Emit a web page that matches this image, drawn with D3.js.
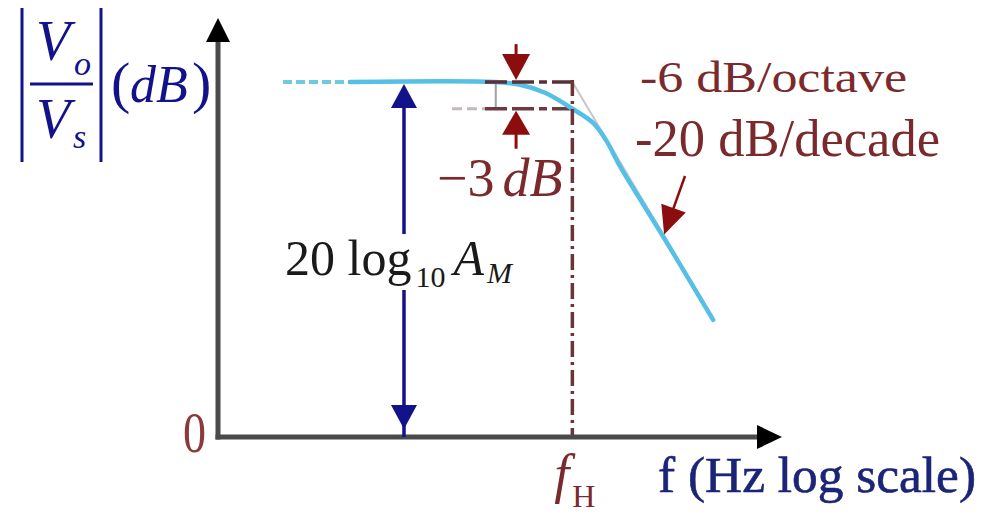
<!DOCTYPE html>
<html>
<head>
<meta charset="utf-8">
<script src="https://cdn.jsdelivr.net/npm/d3@7"></script>
<style>
  html, body { margin: 0; padding: 0; background: #fff; }
  svg { display: block; }
  text { font-family: "Liberation Serif", "Times New Roman", serif; }
</style>
</head>
<body>
<svg id="chart" width="997" height="518"></svg>
<script>
// Low-pass magnitude response (dB) versus frequency (Hz, log scale)
const passbandDb = 40;           // 20 log10 A_M
const cornerHz = 2200;           // f_H
const cornerDb = 37;             // -3 dB point
const leadInHz = [4.1, 17.6];    // dashed lead-in of the flat band
const responseHz = [17.6, 410, 706, 1216, 2200, 3450, 4600, 6200, 15800, 46800];
const responseDb = [40, 40, 39.7, 38.8, 37, 35.4, 33.4, 30.5, 22.6, 13.2];
const asymptoteHz = [2200, 46800];
const asymptoteDb = [40, 13.4];
const upperGuideHz = [330, 2490];   // dashed line at the passband level
const lowerGuideHz = [161, 2490];   // dashed line at the -3 dB level
const stepTickHz = 417;
const dropMarkerHz = 648;           // pair of arrows bracketing the 3 dB drop
const gainMarkerHz = 56.8;          // double arrow for 20 log10 A_M
const slopeMarkerHz = 15800;        // pointer to the roll-off
const slopeMarkerDb = 22.6;
const slopeLabels = ["-6 dB/octave", "-20 dB/decade"];

const svg = d3.select("#chart");
const x = d3.scaleLog().domain([1, 2e5]).range([218, 780]);
const y = d3.scaleLinear().domain([0, 47]).range([437, 20]);

const navy = "#12128a", maroon = "#7a2a2c", red = "#8c0d0d", axisGrey = "#4a4a4a";

function arrowHead(g, tipX, tipY, angle, len, half, fill) {
  // angle: direction the arrow points, in radians (0 = +x)
  const ca = Math.cos(angle), sa = Math.sin(angle);
  const bx = tipX - ca * len, by = tipY - sa * len;
  const pts = [[tipX, tipY], [bx - sa * half, by + ca * half], [bx + sa * half, by - ca * half]];
  g.append("polygon").attr("points", pts.map(p => p.join(",")).join(" ")).attr("fill", fill);
}

// --- guides drawn below the response ---
svg.append("line")
  .attr("x1", x(asymptoteHz[0])).attr("y1", y(asymptoteDb[0]))
  .attr("x2", x(asymptoteHz[1])).attr("y2", y(asymptoteDb[1]))
  .attr("stroke", "#c6c6c6").attr("stroke-width", 2);

svg.append("line")
  .attr("x1", x(stepTickHz)).attr("x2", x(stepTickHz))
  .attr("y1", y(passbandDb)).attr("y2", y(cornerDb))
  .attr("stroke", "#a0a0a0").attr("stroke-width", 2);

svg.append("line")
  .attr("x1", x(lowerGuideHz[0])).attr("x2", x(upperGuideHz[0]))
  .attr("y1", y(cornerDb)).attr("y2", y(cornerDb))
  .attr("stroke", "#c4b8bc").attr("stroke-width", 3).attr("stroke-dasharray", "10,5");

svg.append("line")
  .attr("x1", x(upperGuideHz[0])).attr("x2", x(lowerGuideHz[1]))
  .attr("y1", y(cornerDb)).attr("y2", y(cornerDb))
  .attr("stroke", "#6e3a42").attr("stroke-width", 3.5).attr("stroke-dasharray", "22,5,22,5,8,5");

// --- frequency response ---
svg.append("line")
  .attr("x1", x(leadInHz[0])).attr("x2", x(leadInHz[1]))
  .attr("y1", y(passbandDb)).attr("y2", y(passbandDb))
  .attr("stroke", "#6ccbdc").attr("stroke-width", 4).attr("stroke-dasharray", "9,4");

const response = responseHz.map((f, i) => ({ f, db: responseDb[i] }));
svg.append("path")
  .datum(response)
  .attr("fill", "none")
  .attr("stroke", "#55bfe6")
  .attr("stroke-width", 4.5)
  .attr("stroke-linecap", "round")
  .attr("d", d3.line().x(d => x(d.f)).y(d => y(d.db)).curve(d3.curveCatmullRom.alpha(0.5)));

svg.append("line")
  .attr("x1", x(upperGuideHz[0])).attr("x2", x(upperGuideHz[1]))
  .attr("y1", y(passbandDb)).attr("y2", y(passbandDb))
  .attr("stroke", "#5a3038").attr("stroke-width", 3.5).attr("stroke-dasharray", "22,5,22,5,8,5");

// vertical dash-dot marker at f_H
svg.append("line")
  .attr("x1", x(cornerHz)).attr("x2", x(cornerHz))
  .attr("y1", y(passbandDb) - 2).attr("y2", y(0))
  .attr("stroke", "#6b3436").attr("stroke-width", 3.5).attr("stroke-dasharray", "16,5,3,5");

// --- axes ---
const xAxis = svg.append("g").attr("transform", `translate(0,${y(0)})`)
  .call(d3.axisBottom(x).tickValues([]).tickSizeOuter(0));
const yAxis = svg.append("g").attr("transform", `translate(${x.range()[0]},0)`)
  .call(d3.axisLeft(y).tickValues([]).tickSizeOuter(0));
[xAxis, yAxis].forEach(a => a.select(".domain").attr("stroke", axisGrey).attr("stroke-width", 5));
xAxis.select(".domain").attr("d", `M${x.range()[0] - 2.5},0H${x.range()[1] - 10}`);
yAxis.select(".domain").attr("d", `M0,${y.range()[0] + 2.5}V${y.range()[1] + 10}`);
arrowHead(svg, x.range()[1] + 2, y(0), 0, 25, 12, "#000");
arrowHead(svg, x.range()[0], y.range()[1] - 2, -Math.PI / 2, 24, 12, "#000");

// --- 20 log10 A_M double arrow ---
const gx = x(gainMarkerHz);
svg.append("line").attr("x1", gx).attr("x2", gx)
  .attr("y1", y(passbandDb) + 10).attr("y2", y(0))
  .attr("stroke", navy).attr("stroke-width", 3.5);
arrowHead(svg, gx, y(passbandDb) + 2, -Math.PI / 2, 24, 13, navy);
arrowHead(svg, gx, y(0) - 8, Math.PI / 2, 24, 13, navy);

const gainLabel = svg.append("g");
gainLabel.append("rect").attr("x", 282).attr("y", 234).attr("width", 245).attr("height", 56).attr("fill", "#fff");
const gl = gainLabel.append("text").attr("x", 285).attr("y", 275).attr("fill", "#1a1a1a").attr("font-size", 50);
gl.append("tspan").text("20 log");
gl.append("tspan").attr("font-size", 30).attr("dy", 12).attr("dx", 4).text("10");
gl.append("tspan").attr("font-style", "italic").attr("dy", -12).attr("dx", 8).text("A");
gl.append("tspan").attr("font-style", "italic").attr("font-size", 30).attr("dy", 8).attr("dx", 3).text("M");

// --- -3 dB bracket arrows ---
const dx = x(dropMarkerHz);
svg.append("line").attr("x1", dx).attr("x2", dx).attr("y1", y(passbandDb) - 38).attr("y2", y(passbandDb) - 20)
  .attr("stroke", red).attr("stroke-width", 3);
arrowHead(svg, dx, y(passbandDb) - 2, Math.PI / 2, 26, 14, red);
svg.append("line").attr("x1", dx).attr("x2", dx).attr("y1", y(cornerDb) + 20).attr("y2", y(cornerDb) + 40)
  .attr("stroke", red).attr("stroke-width", 3);
arrowHead(svg, dx, y(cornerDb) + 2, -Math.PI / 2, 24, 14, red);

const dropLabel = svg.append("text").attr("x", 437).attr("y", 196).attr("fill", maroon).attr("font-size", 54);
dropLabel.append("tspan").text("\u22123");
dropLabel.append("tspan").attr("dx", 8).attr("font-style", "italic").text("dB");

// --- roll-off annotation ---
svg.append("text").attr("x", 640).attr("y", 92).attr("fill", maroon).attr("font-size", 44)
  .attr("textLength", 267).attr("lengthAdjust", "spacingAndGlyphs").text(slopeLabels[0]);
svg.append("text").attr("x", 635).attr("y", 156).attr("fill", maroon).attr("font-size", 53)
  .attr("textLength", 305).attr("lengthAdjust", "spacingAndGlyphs").text(slopeLabels[1]);

const tipX = x(slopeMarkerHz) + 1, tipY = y(slopeMarkerDb) - 2;
const ang = Math.atan2(tipY - 176, tipX - 685);
svg.append("line").attr("x1", 685).attr("y1", 176)
  .attr("x2", tipX - Math.cos(ang) * 20).attr("y2", tipY - Math.sin(ang) * 20)
  .attr("stroke", red).attr("stroke-width", 2.5);
arrowHead(svg, tipX, tipY, ang, 28, 13, red);

// --- tick labels ---
svg.append("text").attr("x", 183).attr("y", 452).attr("fill", "#8a3a3c").attr("font-size", 56)
  .attr("textLength", 23).attr("lengthAdjust", "spacingAndGlyphs").text("0");

const fh = svg.append("text").attr("x", x(cornerHz) - 18).attr("y", 492).attr("fill", maroon).attr("font-size", 54);
fh.append("tspan").attr("font-style", "italic").text("f");
fh.append("tspan").attr("font-size", 32).attr("dx", 3).attr("dy", 15).text("H");

svg.append("text").attr("x", 658).attr("y", 492).attr("fill", "#1c2478").attr("font-size", 51)
  .attr("stroke", "#1c2478").attr("stroke-width", 0.6)
  .attr("textLength", 318).attr("lengthAdjust", "spacingAndGlyphs").text("f (Hz log scale)");

// --- y-axis title |Vo/Vs| (dB) ---
const yt = svg.append("g").attr("fill", navy);
yt.append("line").attr("x1", 22).attr("x2", 22).attr("y1", 8).attr("y2", 162).attr("stroke", navy).attr("stroke-width", 3);
yt.append("line").attr("x1", 101).attr("x2", 101).attr("y1", 8).attr("y2", 162).attr("stroke", navy).attr("stroke-width", 3);
yt.append("line").attr("x1", 30).attr("x2", 93).attr("y1", 84).attr("y2", 84).attr("stroke", navy).attr("stroke-width", 3);
yt.append("text").attr("x", 36).attr("y", 60).attr("font-size", 56).attr("font-style", "italic").text("V");
yt.append("text").attr("x", 74).attr("y", 75).attr("font-size", 34).attr("font-style", "italic").text("o");
yt.append("text").attr("x", 36).attr("y", 138).attr("font-size", 56).attr("font-style", "italic").text("V");
yt.append("text").attr("x", 73).attr("y", 148).attr("font-size", 34).attr("font-style", "italic").text("s");
yt.append("text").attr("x", 111).attr("y", 102).attr("font-size", 58).text("(");
yt.append("text").attr("x", 130).attr("y", 102).attr("font-size", 52).attr("font-style", "italic").text("dB");
yt.append("text").attr("x", 192).attr("y", 102).attr("font-size", 58).text(")");
</script>
</body>
</html>
